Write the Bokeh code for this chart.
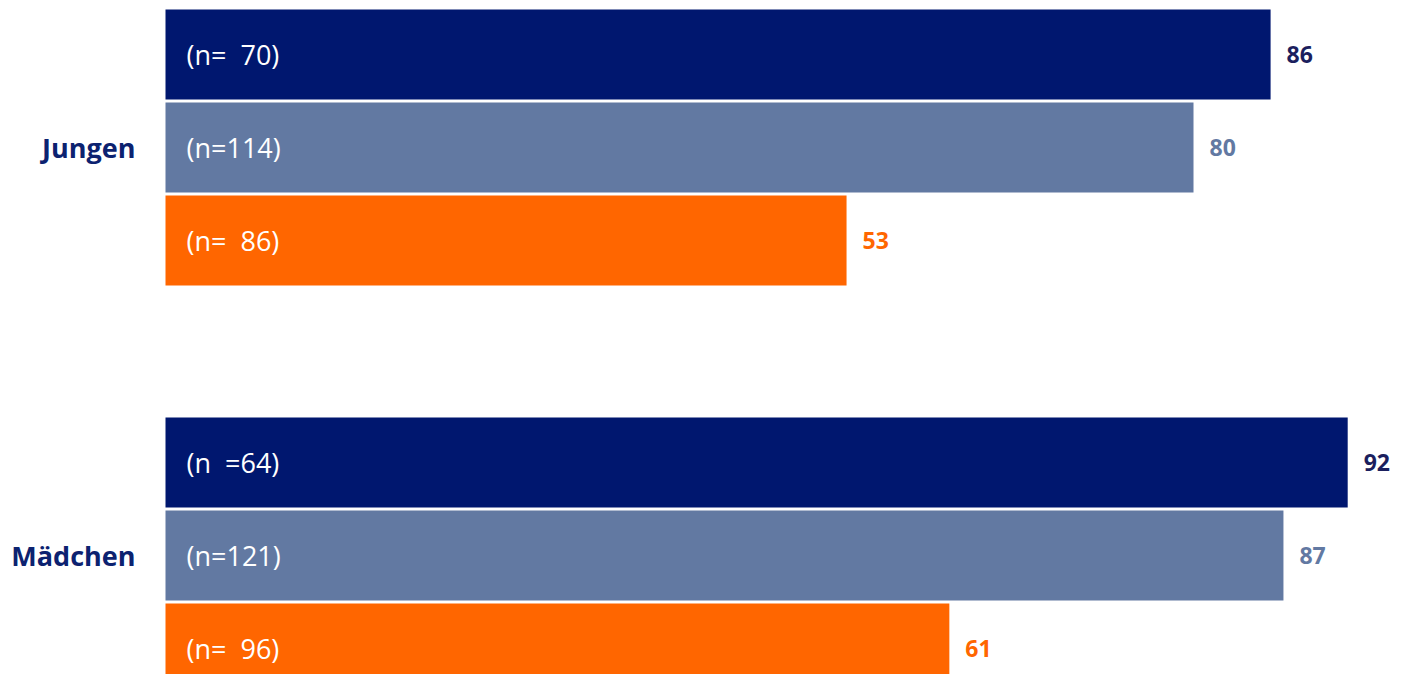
from bokeh.plotting import figure
from bokeh.models import Range1d, ColumnDataSource
from bokeh.embed import file_html
from bokeh.resources import INLINE
from bokeh.core.properties import value

groups = ["Jungen", "Mädchen"]
series_colors = ["#00176F", "#6279A2", "#FF6600"]
label_colors = ["#1B1F5E", "#6279A2", "#FF6600"]
values_jungen = [86, 80, 53]
values_maedchen = [92, 87, 61]
n_jungen = ["(n=\u00a0 70)", "(n=114)", "(n=\u00a0 86)"]
n_maedchen = ["(n\u00a0 =64)", "(n=121)", "(n=\u00a0 96)"]

GROUP_STEP = 4.387
W, H = 1390, 674
px_per_unit = 12.85
x0_px = 165
bar_px = 93.0
top_px = 54.0

ys, cols, lcols, vals, vlabels, nlabels = [], [], [], [], [], []
for g, (vals_g, n_g) in enumerate([(values_jungen, n_jungen), (values_maedchen, n_maedchen)]):
    for i, (v, n) in enumerate(zip(vals_g, n_g)):
        ys.append(g * GROUP_STEP + i)
        vals.append(v)
        cols.append(series_colors[i])
        lcols.append(label_colors[i])
        vlabels.append(str(v))
        nlabels.append(n)

src = ColumnDataSource(dict(y=ys, v=vals, c=cols, lc=lcols, vl=vlabels, nl=nlabels, zero=[0] * len(ys)))
gsrc = ColumnDataSource(dict(y=[g * GROUP_STEP + 1 for g in range(len(groups))], x=[0] * len(groups), t=groups))

x_start = -x0_px / px_per_unit
x_end = (W - x0_px) / px_per_unit
y_top = -top_px / bar_px
y_bottom = y_top + H / bar_px

p = figure(width=W, height=H, output_backend="svg", toolbar_location=None,
           x_range=Range1d(x_start, x_end), y_range=Range1d(y_bottom, y_top),
           min_border=0)
p.axis.visible = False
p.grid.visible = False
p.outline_line_color = None

p.hbar(y="y", left=0, right="v", height=90 / bar_px, fill_color="c", line_color=None, source=src)

p.text(x="zero", y="y", text="nl", x_offset=21, text_align="left", text_baseline="middle",
       text_color="white", text_font=value("Open Sans"), text_font_size="27px", source=src)
p.text(x="v", y="y", text="vl", x_offset=16, text_align="left", text_baseline="middle",
       text_color="lc", text_font=value("Open Sans"), text_font_size="23px", text_font_style="bold",
       source=src)
p.text(x="x", y="y", text="t", x_offset=-30, text_align="right", text_baseline="middle",
       text_color="#0C2270", text_font=value("Open Sans"), text_font_size="27px", text_font_style="bold",
       source=gsrc)

open("out.html", "w").write(file_html(p, INLINE))
